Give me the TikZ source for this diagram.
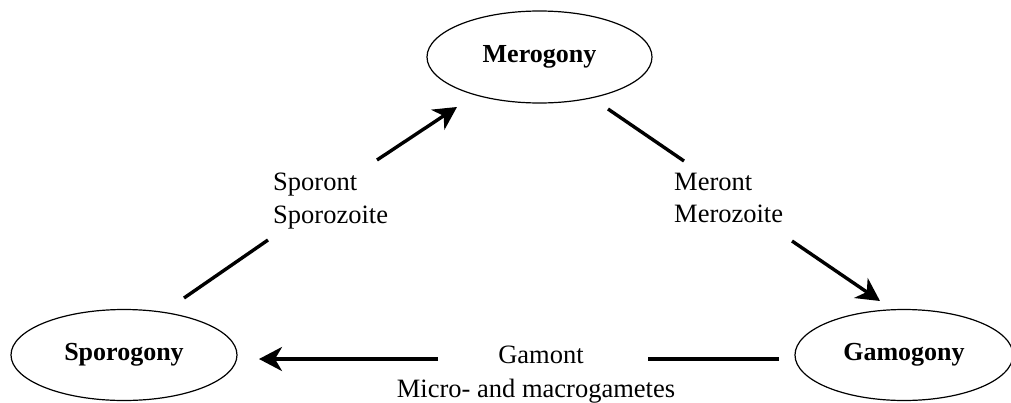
\documentclass[tikz,border=0pt]{standalone}
\usepackage{fontspec}
\setmainfont{Liberation Serif}
\usetikzlibrary{shapes.geometric,arrows.meta}
\tikzset{
  stage/.style={draw, ellipse, line width=1.2pt, inner sep=0pt, font=\fontsize{26}{31}\selectfont\bfseries},
  seg/.style={line width=3.4pt},
  arr/.style={line width=3.4pt, -{Stealth[length=23pt,width=24pt,inset=7pt]}},
  lbl/.style={inner sep=0pt, font=\fontsize{26.5}{32}\selectfont}
}
\begin{document}
\begin{tikzpicture}[x=1pt,y=-1pt]
\useasboundingbox (0,0) rectangle (1011,402);
% stages
\node[stage, minimum width=225pt, minimum height=92pt] (mero) at (539.5,57) {Merogony};
\node[stage, minimum width=226pt, minimum height=91pt] (spor) at (124,355) {Sporogony};
\node[stage, minimum width=218pt, minimum height=91pt] (gamo) at (904,355) {Gamogony};
% connector end points
\coordinate (s1) at (184,298);
\coordinate (s2) at (268,240);
\coordinate (s3) at (377,160);
\coordinate (s4) at (457,107);
\coordinate (m1) at (608,109);
\coordinate (m2) at (684,161);
\coordinate (m3) at (792,241);
\coordinate (m4) at (880,301);
\coordinate (g1) at (779,359);
\coordinate (g2) at (648,359);
\coordinate (g3) at (438,359);
\coordinate (g4) at (259,359);
% connectors
\draw[seg] (s1) -- (s2);
\draw[arr] (s3) -- (s4);
\draw[seg] (m1) -- (m2);
\draw[arr] (m3) -- (m4);
\draw[seg] (g1) -- (g2);
\draw[arr] (g3) -- (g4);
% labels
\node[lbl, anchor=base west] (sp1) at (273,190) {Sporont};
\node[lbl, anchor=base west] (sp2) at (273,223) {Sporozoite};
\node[lbl, anchor=base west] (me1) at (674,190) {Meront};
\node[lbl, anchor=base west] (me2) at (674,222) {Merozoite};
\node[lbl, anchor=base] (ga1) at (541,363) {Gamont};
\node[lbl, anchor=base] (ga2) at (536,397) {Micro- and macrogametes};
\end{tikzpicture}
\end{document}
